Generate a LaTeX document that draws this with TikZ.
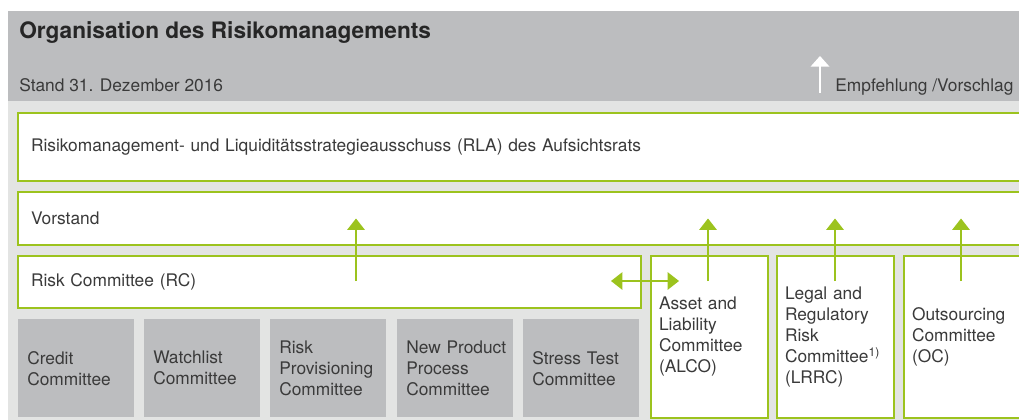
\documentclass[tikz,border=0pt]{standalone}
\usepackage{fontspec}
\setmainfont{TeX Gyre Heros}
\usetikzlibrary{arrows.meta}
\hyphenpenalty=10000
\exhyphenpenalty=10000
\definecolor{rmgreen}{HTML}{9CC31E}
\definecolor{hdgray}{HTML}{BCBDBF}
\definecolor{bggray}{HTML}{E3E4E3}
\definecolor{txgray}{HTML}{3A3A3A}
\tikzstyle{box} = [rectangle, draw=rmgreen, line width=1.5pt, fill=white, anchor=north west, align=left, inner xsep=9.75pt, text=txgray, font=\fontsize{13}{15.75}\selectfont]
\tikzstyle{sub} = [rectangle, fill=hdgray, anchor=north west, align=left, inner xsep=6.75pt, text width=73.5pt, minimum width=87pt, minimum height=73.5pt, text=txgray, font=\fontsize{13}{15.75}\selectfont]
\tikzstyle{cbox} = [box, inner xsep=6pt, text width=75.75pt, minimum height=121.5pt]
\tikzstyle{arr} = [draw=rmgreen, line width=1.2pt, -{Triangle[width=13pt, length=8.5pt]}]

\begin{document}
\begin{tikzpicture}[x=0.75pt, y=-0.75pt]
	\useasboundingbox (0,0) rectangle (1019,420);

	\fill[hdgray] (8,11) rectangle (1019,101);
	\fill[bggray] (8,101) rectangle (1019,420);

	\node[anchor=base west, inner sep=0pt, font=\fontsize{17}{20}\selectfont\bfseries, text=black!85] (title) at (19,39) {Organisation des Risikomanagements};
	\node[anchor=base west, inner sep=0pt, text=txgray, font=\fontsize{13}{15}\selectfont] (stand) at (19,92) {Stand 31. Dezember 2016};
	\node[anchor=base west, inner sep=0pt, text=txgray, font=\fontsize{13}{15}\selectfont] (legend) at (835,92) {Empfehlung /Vorschlag};
	\coordinate (lgfrom) at (820,93);
	\coordinate (lgto) at (820,56);
	\draw[white, line width=1.2pt, -{Triangle[width=14pt, length=8pt]}] (lgfrom) -- (lgto);

	\node[box, text width=738pt, minimum height=51pt] (rla) at (17,112) {Risikomanagement- und Liquiditätsstrategieausschuss (RLA) des Aufsichtsrats};
	\node[box, text width=738pt, minimum height=39.75pt] (vst) at (17,191) {Vorstand};
	\node[box, text width=447.75pt, minimum height=39pt] (rc) at (17,255) {Risk Committee (RC)};

	\node[sub] (cc) at (18,319) {Credit\\Committee};
	\node[sub] (wc) at (144,319) {Watchlist\\Committee};
	\node[sub] (rpc) at (270,319) {Risk\\Provisioning\\Committee};
	\node[sub] (npc) at (397,319) {New~Product\\Process\\Committee};
	\node[sub] (stc) at (523,319) {Stress~Test\\Committee};

	\node[cbox] (alco) at (650,255) {Asset~and\\Liability\\Committee\\(ALCO)};
	\node[cbox] (lrrc) at (776,255) {Legal~and\\Regulatory\\Risk\\Committee\textsuperscript{1)}\\(LRRC)};
	\node[cbox, text width=82pt] (oc) at (903,255) {Outsourcing\\Committee\\(OC)};

	\coordinate (rcup) at (356,281);
	\coordinate (alup) at (708,281);
	\coordinate (lrup) at (835,281);
	\coordinate (ocup) at (961,281);
	\draw[arr] (rcup) -- (rcup |- vst.center);
	\draw[arr] (alup) -- (alup |- vst.center);
	\draw[arr] (lrup) -- (lrup |- vst.center);
	\draw[arr] (ocup) -- (ocup |- vst.center);

	\coordinate (rcend) at (611,281);
	\coordinate (alend) at (679,281);
	\draw[arr, {Triangle[width=13pt, length=8.5pt]}-{Triangle[width=13pt, length=8.5pt]}] (rcend) -- (alend);

\end{tikzpicture}
\end{document}
